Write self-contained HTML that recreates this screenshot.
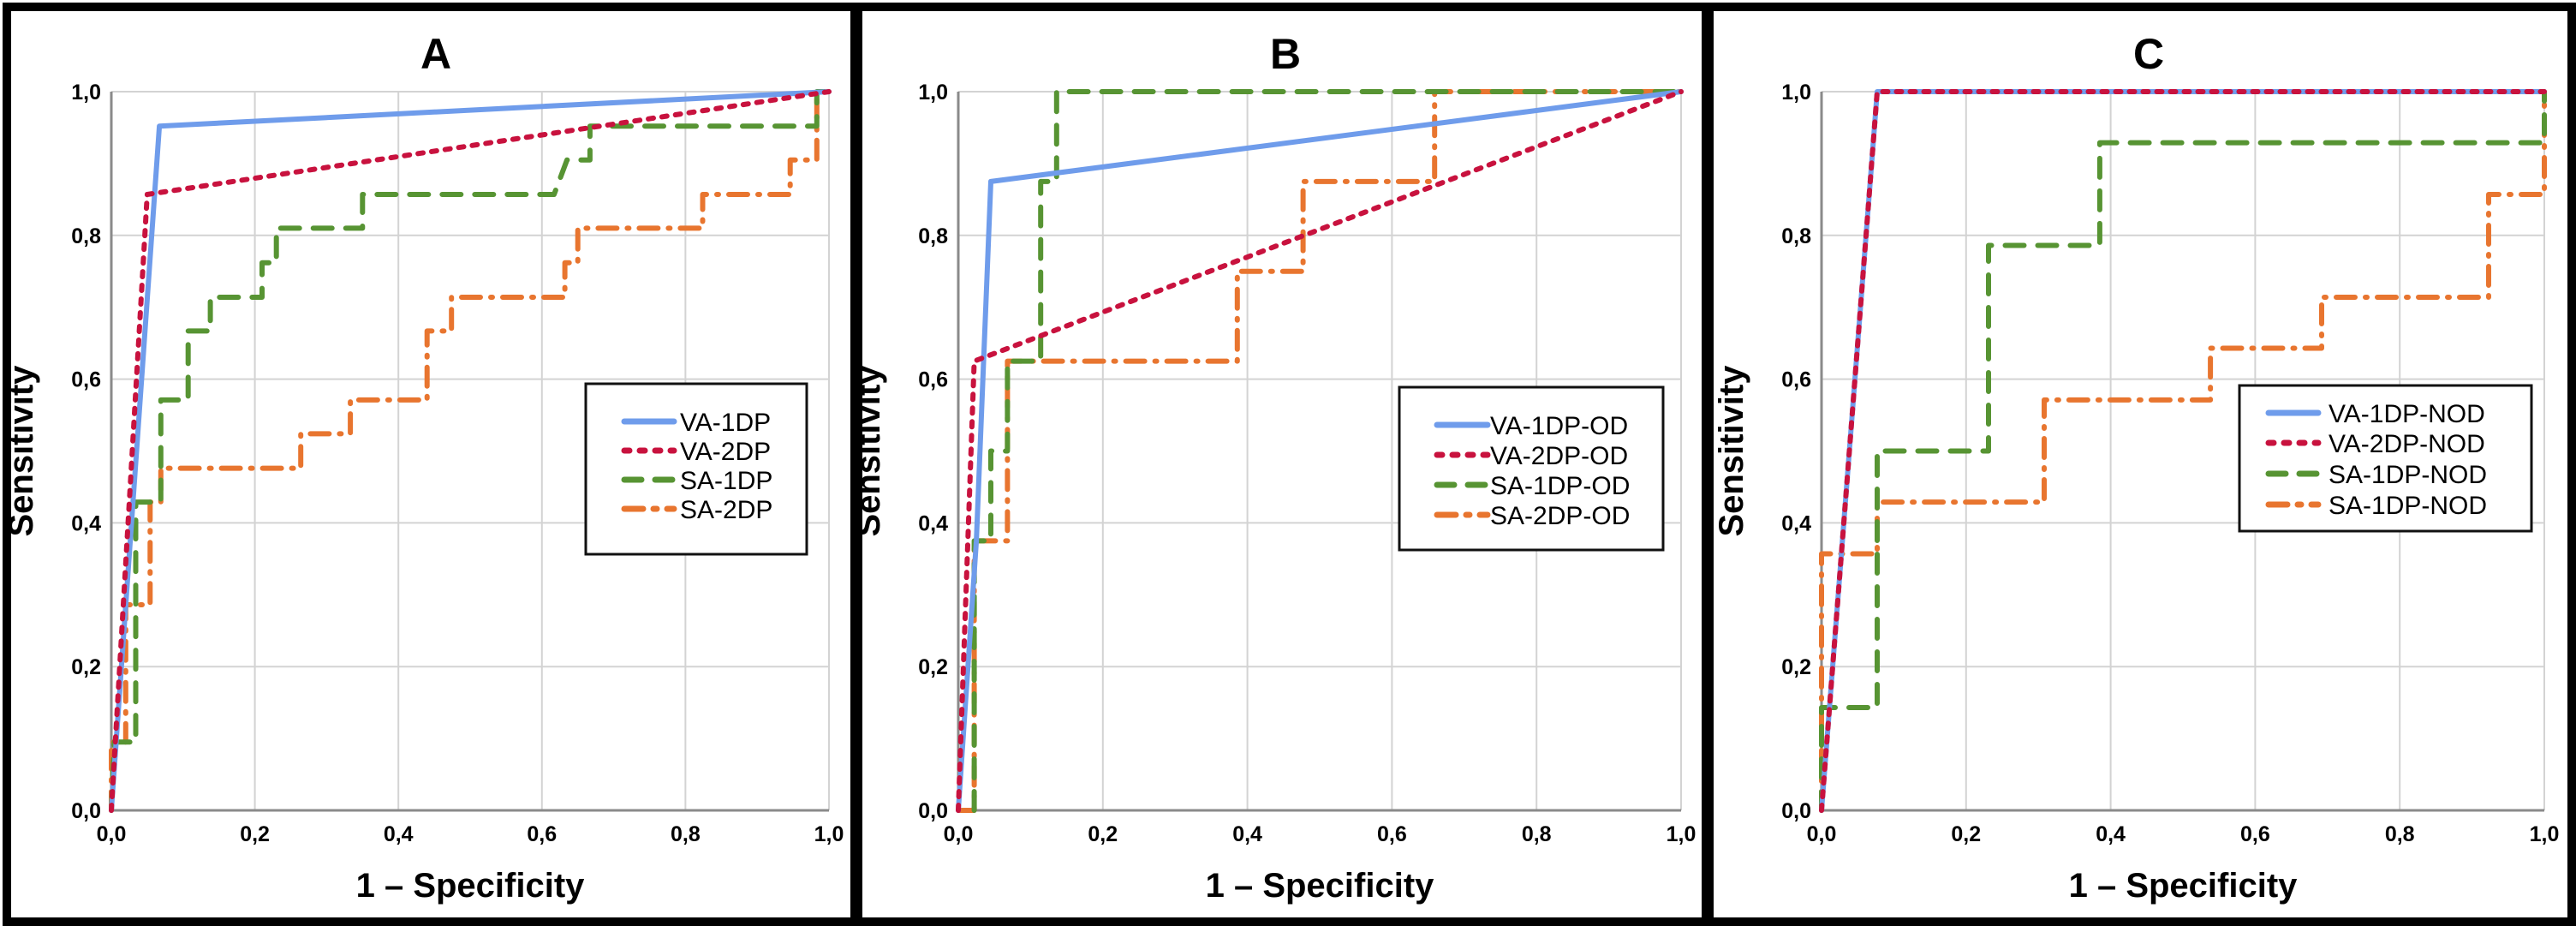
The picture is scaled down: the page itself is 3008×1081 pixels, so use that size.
<!DOCTYPE html>
<html><head><meta charset="utf-8"><style>
html,body{margin:0;padding:0;background:#fff;}
svg{display:block;}
text{font-family:"Liberation Sans",sans-serif;fill:#000;}
</style></head><body>
<svg id="fig" width="3008" height="1081" viewBox="0 0 3008 1081" xmlns="http://www.w3.org/2000/svg">
<rect x="0" y="0" width="3008" height="1081" fill="#fff"/>
</svg>
<script>
// ---- Data arrays ----
const ticks = [0, 0.2, 0.4, 0.6, 0.8, 1.0];
const tickLabels = ["0,0", "0,2", "0,4", "0,6", "0,8", "1,0"];
const panelTitles = ["A", "B", "C"];
const legendA = ["VA-1DP", "VA-2DP", "SA-1DP", "SA-2DP"];
const legendB = ["VA-1DP-OD", "VA-2DP-OD", "SA-1DP-OD", "SA-2DP-OD"];
const legendC = ["VA-1DP-NOD", "VA-2DP-NOD", "SA-1DP-NOD", "SA-1DP-NOD"];

// Panel A
const aVA1x = [0, 0.067, 1];
const aVA1y = [0, 0.952, 1];
const aVA2x = [0, 0.05, 1];
const aVA2y = [0, 0.857, 1];
const aSA1x = [0, 0.004, 0.034, 0.034, 0.069, 0.069, 0.107, 0.107, 0.138, 0.138, 0.21, 0.21, 0.23, 0.23, 0.35, 0.35, 0.617, 0.635, 0.667, 0.667, 0.983, 0.983, 1];
const aSA1y = [0, 0.095, 0.095, 0.429, 0.429, 0.571, 0.571, 0.667, 0.667, 0.714, 0.714, 0.762, 0.762, 0.81, 0.81, 0.857, 0.857, 0.905, 0.905, 0.952, 0.952, 1, 1];
const aSA2x = [0, 0, 0.02, 0.02, 0.054, 0.054, 0.069, 0.069, 0.264, 0.264, 0.333, 0.333, 0.44, 0.44, 0.474, 0.474, 0.632, 0.632, 0.65, 0.65, 0.824, 0.824, 0.946, 0.946, 0.983, 0.983, 1];
const aSA2y = [0, 0.095, 0.095, 0.286, 0.286, 0.429, 0.429, 0.476, 0.476, 0.524, 0.524, 0.571, 0.571, 0.667, 0.667, 0.714, 0.714, 0.762, 0.762, 0.81, 0.81, 0.857, 0.857, 0.905, 0.905, 1, 1];

// Panel B
const bVA1x = [0, 0.025, 0.045, 1];
const bVA1y = [0, 0.375, 0.875, 1];
const bVA2x = [0, 0.022, 1];
const bVA2y = [0, 0.625, 1];
const bSA1x = [0.022, 0.022, 0.045, 0.045, 0.068, 0.068, 0.114, 0.114, 0.136, 0.136, 1];
const bSA1y = [0, 0.375, 0.375, 0.5, 0.5, 0.625, 0.625, 0.875, 0.875, 1, 1];
const bSA2x = [0, 0.022, 0.022, 0.068, 0.068, 0.386, 0.386, 0.477, 0.477, 0.659, 0.659, 1];
const bSA2y = [0, 0, 0.375, 0.375, 0.625, 0.625, 0.75, 0.75, 0.875, 0.875, 1, 1];

// Panel C
const cVA1x = [0, 0.077, 1];
const cVA1y = [0, 1, 1];
const cVA2x = [0, 0.077, 1];
const cVA2y = [0, 1, 1];
const cSA1x = [0, 0, 0.077, 0.077, 0.231, 0.231, 0.385, 0.385, 1, 1];
const cSA1y = [0, 0.143, 0.143, 0.5, 0.5, 0.786, 0.786, 0.929, 0.929, 1];
const cSA2x = [0, 0, 0.077, 0.077, 0.308, 0.308, 0.538, 0.538, 0.692, 0.692, 0.923, 0.923, 1, 1];
const cSA2y = [0, 0.357, 0.357, 0.429, 0.429, 0.571, 0.571, 0.643, 0.643, 0.714, 0.714, 0.857, 0.857, 1];

const NS = "http://www.w3.org/2000/svg";
const svg = document.getElementById("fig");
function mk(tag, attrs, parent) {
  const e = document.createElementNS(NS, tag);
  for (const k in attrs) e.setAttribute(k, attrs[k]);
  (parent || svg).appendChild(e);
  return e;
}
const styles = [
  {stroke: "#6f9ceb", dash: "none", cap: "round"},
  {stroke: "#c8123e", dash: "6 10", cap: "round"},
  {stroke: "#579433", dash: "22 16", cap: "round"},
  {stroke: "#e8752f", dash: "22 12 2 12", cap: "round"}
];
const seriesNames = ["va-1dp", "va-2dp", "sa-1dp", "sa-2dp"];

const panels = [
  {x0: 130, x1: 968, y0: 946, y1: 107, series: [[aVA1x, aVA1y], [aVA2x, aVA2y], [aSA1x, aSA1y], [aSA2x, aSA2y]], legend: legendA, lg: {x: 684, y: 448, w: 258, h: 199, lx1: 729, lx2: 787, tx: 794, rows: [492, 526, 560, 594]}},
  {x0: 1119, x1: 1963, y0: 946, y1: 107, series: [[bVA1x, bVA1y], [bVA2x, bVA2y], [bSA1x, bSA1y], [bSA2x, bSA2y]], legend: legendB, lg: {x: 1634, y: 452, w: 308, h: 190, lx1: 1678, lx2: 1737, tx: 1740, rows: [496, 531, 566, 601]}},
  {x0: 2127, x1: 2971, y0: 946, y1: 107, series: [[cVA1x, cVA1y], [cVA2x, cVA2y], [cSA1x, cSA1y], [cSA2x, cSA2y]], legend: legendC, lg: {x: 2615, y: 450, w: 341, h: 170, lx1: 2649, lx2: 2707, tx: 2719, rows: [482, 517, 553, 589]}}
];

panels.forEach((p, pi) => {
  const g = mk("g", {});
  
  
  const sx = v => p.x0 + v * (p.x1 - p.x0);
  const sy = v => p.y0 - v * (p.y0 - p.y1);
  // gridlines
  ticks.forEach((t, i) => {
    if (i === 0) return;
    const gv = mk("line", {x1: sx(t), x2: sx(t), y1: p.y1, y2: p.y0, stroke: "#d3d3d3", "stroke-width": 2}, g);
    
    
    const gh = mk("line", {x1: p.x0, x2: p.x1, y1: sy(t), y2: sy(t), stroke: "#d3d3d3", "stroke-width": 2}, g);
    
    
  });
  const ax = mk("line", {x1: p.x0, x2: p.x1, y1: p.y0, y2: p.y0, stroke: "#8a8a8a", "stroke-width": 3}, g);
  
  
  const ay = mk("line", {x1: p.x0, x2: p.x0, y1: p.y1, y2: p.y0, stroke: "#8a8a8a", "stroke-width": 3}, g);
  
  
  // tick labels
  ticks.forEach((t, i) => {
    const yl = mk("text", {x: p.x0 - 12, y: sy(t) + 9, "text-anchor": "end", "font-size": 25, "font-weight": "bold"}, g);
    yl.textContent = tickLabels[i];
    
    
    const xl = mk("text", {x: sx(t), y: p.y0 + 36, "text-anchor": "middle", "font-size": 25, "font-weight": "bold"}, g);
    xl.textContent = tickLabels[i];
    
    
  });
  // titles
  const cx = (p.x0 + p.x1) / 2;
  const tt = mk("text", {x: cx - 40, y: 80, "text-anchor": "middle", "font-size": 50, "font-weight": "bold"}, g);
  tt.textContent = panelTitles[pi];
  
  
  const xt = mk("text", {x: cx, y: 1047, "text-anchor": "middle", "font-size": 40, "font-weight": "bold"}, g);
  xt.textContent = "1 – Specificity";
  
  
  const ytx = p.x0 - 92, yty = (p.y0 + p.y1) / 2;
  const yt = mk("text", {x: ytx, y: yty, "text-anchor": "middle", "font-size": 40, "font-weight": "bold", transform: "rotate(-90 " + ytx + " " + yty + ")"}, g);
  yt.textContent = "Sensitivity";
  
  
  // series (draw in reverse so blue/red on top)
  [3, 2, 0, 1].forEach(si => {
    const xs = p.series[si][0], ys = p.series[si][1];
    const pts = xs.map((x, k) => sx(x).toFixed(1) + "," + sy(ys[k]).toFixed(1)).join(" ");
    const st = styles[si];
    const pl = mk("polyline", {points: pts, fill: "none", stroke: st.stroke, "stroke-width": 6, "stroke-dasharray": st.dash, "stroke-linecap": st.cap, "stroke-linejoin": "round"}, g);
    
    
  });
  // legend
  const L = p.lg;
  const lgG = mk("g", {}, g);
  
  
  mk("rect", {x: L.x, y: L.y, width: L.w, height: L.h, fill: "#fff", stroke: "#111", "stroke-width": 3}, lgG);
  p.legend.forEach((name, li) => {
    const st = styles[li];
    const eg = mk("g", {}, lgG);
    
    
    mk("line", {x1: L.lx1, x2: L.lx2, y1: L.rows[li], y2: L.rows[li], stroke: st.stroke, "stroke-width": 7, "stroke-dasharray": st.dash === "none" ? "none" : (li === 1 ? "6 12" : li === 2 ? "20 16" : "22 12 4 12"), "stroke-linecap": "round"}, eg);
    const lt = mk("text", {x: L.tx, y: L.rows[li] + 11, "font-size": 30}, eg);
    lt.textContent = name;
  });
});

// panel frames
[[4, 4, 994, 1068], [998, 4, 994, 1068], [1992, 4, 1011, 1068]].forEach((r, i) => {
  const fr = mk("rect", {x: r[0] + 4, y: r[1] + 4, width: r[2] - 4, height: r[3], fill: "none", stroke: "#000", "stroke-width": 10});
  
  
});
</script>
</body></html>
